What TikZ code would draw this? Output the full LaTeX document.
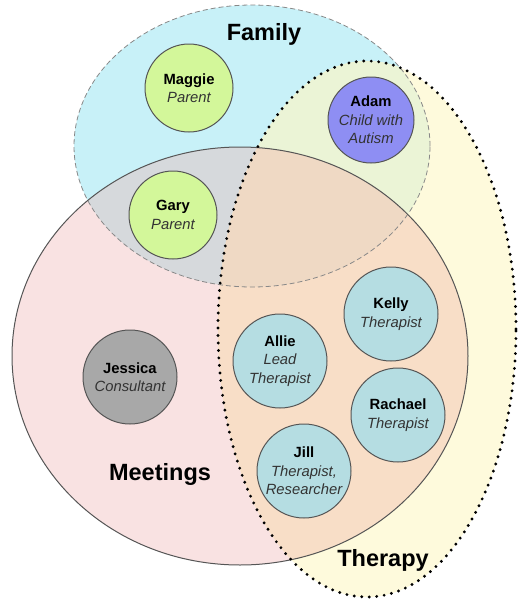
\documentclass[tikz,border=0pt]{standalone}
\usepackage{fontspec}
\setmainfont{Liberation Sans}
\definecolor{famfill}{HTML}{C8F1F8}
\definecolor{meetfill}{HTML}{F9E2E2}
\definecolor{therfill}{HTML}{FEFADC}
\definecolor{fmfill}{HTML}{D6D9DC}
\definecolor{ftfill}{HTML}{EBF4D6}
\definecolor{mtfill}{HTML}{F8DEC7}
\definecolor{fmtfill}{HTML}{EFD9C4}
\definecolor{parentc}{HTML}{D3F79A}
\definecolor{childc}{HTML}{8E8EF3}
\definecolor{consc}{HTML}{A8A8A8}
\definecolor{therc}{HTML}{B5DDE2}
\definecolor{edgec}{HTML}{555555}
\definecolor{rolec}{HTML}{333333}
\newcommand{\rl}[1]{{\itshape\color{rolec}#1}}
\begin{document}
\begin{tikzpicture}[x=1pt,y=-1pt,
  person/.style={circle,draw=edgec,line width=1pt,inner sep=0pt,minimum size=#1,align=center,font=\fontsize{14.8}{18.5}\selectfont},
  setlabel/.style={font=\fontsize{23.5}{26}\selectfont\bfseries}]
\useasboundingbox (0,0) rectangle (517,600);
\def\fam{(252,146) ellipse [x radius=178pt, y radius=141pt]}
\def\meet{(240,356) ellipse [x radius=228pt, y radius=209pt]}
\def\ther{(367,329) ellipse [x radius=149pt, y radius=268pt]}
\fill[famfill] \fam;
\fill[meetfill] \meet;
\fill[therfill] \ther;
\begin{scope}\clip \fam; \fill[fmfill] \meet; \fill[ftfill] \ther; \end{scope}
\begin{scope}\clip \meet; \fill[mtfill] \ther; \end{scope}
\begin{scope}\clip \fam; \clip \meet; \fill[fmtfill] \ther; \end{scope}
\draw[edgec!70, line width=0.8pt, dash pattern=on 5pt off 3pt] \fam;
\draw[edgec, line width=1pt] \meet;
\draw[black, line width=3.2pt, line cap=round, dash pattern=on 0pt off 7.5pt] \ther;
\node[setlabel] (lfam) at (264,34) {Family};
\node[setlabel] (lmeet) at (160,474) {Meetings};
\node[setlabel] (lther) at (383,560) {Therapy};
\node[person=88pt, fill=parentc] (maggie) at (189,88) {\textbf{Maggie}\\\rl{Parent}};
\node[person=88pt, fill=parentc] (gary) at (173,215) {\textbf{Gary}\\\rl{Parent}};
\node[person=86pt, fill=childc] (adam) at (371,120) {\textbf{Adam}\\\rl{Child with}\\\rl{Autism}};
\node[person=94pt, fill=consc] (jessica) at (130,377) {\textbf{Jessica}\\\rl{Consultant}};
\node[person=94pt, fill=therc] (kelly) at (391,314) {\textbf{Kelly}\\\rl{Therapist}};
\node[person=94pt, fill=therc] (allie) at (280,361) {\textbf{Allie}\\\rl{Lead}\\\rl{Therapist}};
\node[person=94pt, fill=therc] (rachael) at (398,415) {\textbf{Rachael}\\\rl{Therapist}};
\node[person=94pt, fill=therc] (jill) at (304,471) {\textbf{Jill}\\\rl{Therapist,}\\\rl{Researcher}};
\end{tikzpicture}
\end{document}
